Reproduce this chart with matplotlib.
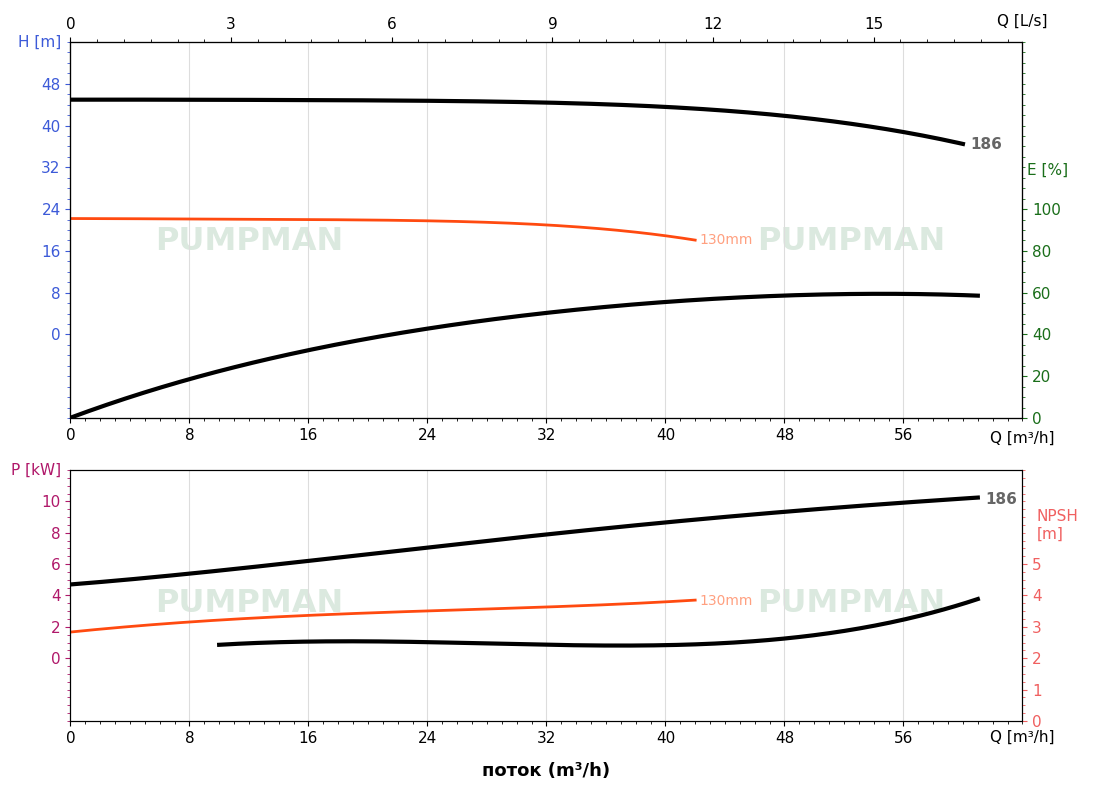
import matplotlib
matplotlib.use("Agg")
import matplotlib.pyplot as plt
import numpy as np
from matplotlib.ticker import MultipleLocator, FixedLocator

q_h = [0, 8, 16, 24, 32, 40, 48, 56, 60]
h_186 = [45, 44.8, 45, 44.8, 44.3, 43.6, 41.8, 38.9, 36.4]
q_h130 = [0, 8, 16, 24, 32, 40, 42]
h_130 = [22.2, 22.1, 22.0, 21.8, 20.9, 19.0, 18.0]
q_e = [0, 8, 16, 24, 32, 40, 48, 56, 61]
e_186 = [0, 19, 32, 43, 50, 56, 58.5, 59.2, 58.7]
q_p = [0, 8, 16, 24, 32, 40, 48, 56, 61]
p_186 = [4.7, 5.4, 6.2, 7.05, 7.9, 8.65, 9.35, 9.9, 10.25]
q_p130 = [0, 8, 16, 24, 32, 40, 42]
p_130 = [1.67, 2.3, 2.75, 3.0, 3.27, 3.6, 3.7]
q_n = [10, 16, 24, 32, 40, 48, 56, 61]
npsh = [2.42, 2.55, 2.5, 2.42, 2.42, 2.65, 3.2, 3.9]
qls_ticks = [0, 3, 6, 9, 12, 15]
qm3_ticks = [0, 8, 16, 24, 32, 40, 48, 56]

def smooth(x, y):
    xs = np.linspace(x[0], x[-1], 200)
    c = np.polyfit(x, y, min(4, len(x)-1))
    return xs, np.polyval(c, xs)

fig = plt.figure(figsize=(11, 8), dpi=100)
ax1 = fig.add_axes([0.064, 0.4775, 0.8655, 0.47])
ax2 = fig.add_axes([0.064, 0.0988, 0.8655, 0.3137])
blue = '#3c5ad8'; green = '#1a6e1a'; mag = '#b0186a'; salmon = '#f06060'
orange = '#ff4a10'

for ax in (ax1, ax2):
    ax.set_xlim(0, 64)
    ax.xaxis.set_major_locator(FixedLocator(qm3_ticks))
    ax.xaxis.set_minor_locator(MultipleLocator(1))
    ax.grid(axis='x', color='#dddddd', lw=0.8)
    ax.tick_params(labelsize=11)
    for x0 in (12, 52.5):
        ax.text(x0, 0.47, 'PUMPMAN', transform=ax.get_xaxis_transform(), fontsize=23,
                fontweight='bold', color='#dbe9df', ha='center', va='center', zorder=0,
                family='Liberation Sans Narrow')
    ax.text(1.0, -0.035, 'Q [m³/h]', transform=ax.transAxes, ha='center', va='top', fontsize=11)

# top
ax1.set_ylim(-16, 56)
ax1.set_yticks(range(0, 49, 8))
ax1.yaxis.set_minor_locator(MultipleLocator(2))
ax1.tick_params(axis='y', colors=blue, which='both')
ax1.text(-0.01, 1.0, 'H [m]', transform=ax1.transAxes, color=blue, ha='right', va='center', fontsize=11)
x, y = smooth(q_h, h_186); ax1.plot(x, y, color='black', lw=3)
ax1.text(60.5, 36.4, '186', color='#666666', fontweight='bold', fontsize=11, va='center')
x, y = smooth(q_h130, h_130); ax1.plot(x, y, color=orange, lw=2)
ax1.text(42.3, 18, '130mm', color='#ffa080', fontsize=10, va='center')
axe = ax1.twinx()
axe.set_ylim(0, 180)
axe.set_yticks(range(0, 101, 20))
axe.yaxis.set_minor_locator(MultipleLocator(5))
axe.tick_params(axis='y', colors=green, which='both', labelsize=11)
axe.text(1.005, 0.66, 'E [%]', transform=axe.transAxes, color=green, ha='left', va='center', fontsize=11)
x, y = smooth(q_e, e_186); axe.plot(x, y, color='black', lw=3)
axt = ax1.twiny()
axt.set_xlim(0, 64/3.6)
axt.xaxis.set_major_locator(FixedLocator(qls_ticks))
axt.set_xticklabels([str(t) for t in qls_ticks])
axt.xaxis.set_minor_locator(MultipleLocator(0.5))
axt.tick_params(labelsize=11)
ax1.text(1.0, 1.035, 'Q [L/s]', transform=ax1.transAxes, ha='center', va='bottom', fontsize=11)

# bottom
ax2.set_ylim(-4, 12)
ax2.set_yticks(range(0, 11, 2))
ax2.yaxis.set_minor_locator(MultipleLocator(0.5))
ax2.tick_params(axis='y', colors=mag, which='both')
ax2.text(-0.01, 1.0, 'P [kW]', transform=ax2.transAxes, color=mag, ha='right', va='center', fontsize=11)
x, y = smooth(q_p, p_186); ax2.plot(x, y, color='black', lw=3)
ax2.text(61.5, 10.1, '186', color='#666666', fontweight='bold', fontsize=11, va='center')
x, y = smooth(q_p130, p_130); ax2.plot(x, y, color=orange, lw=2)
ax2.text(42.3, 3.65, '130mm', color='#ffa080', fontsize=10, va='center')
axn = ax2.twinx()
axn.set_ylim(0, 8)
axn.set_yticks(range(0, 6))
axn.yaxis.set_minor_locator(MultipleLocator(0.25))
axn.tick_params(axis='y', colors=salmon, which='both', labelsize=11)
axn.text(1.015, 0.78, 'NPSH\n[m]', transform=axn.transAxes, color=salmon, ha='left', va='center', fontsize=11)
x, y = smooth(q_n, npsh); axn.plot(x, y, color='black', lw=3)
ax2.set_xlabel('поток (m³/h)', fontsize=13, fontweight='bold', labelpad=12)

fig.savefig('out.png', dpi=100)
